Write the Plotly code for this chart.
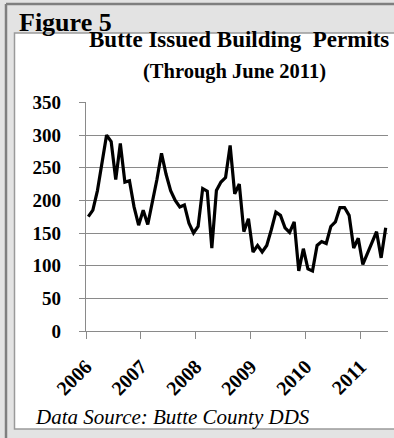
import numpy as np
import plotly.graph_objects as go

# Monthly building permits issued in Butte County, Jan 2006 - Jun 2011
permits_2006 = [175, 185, 215, 260, 300, 290, 232, 287, 228, 230, 190, 162]
permits_2007 = [185, 163, 195, 232, 272, 240, 215, 200, 190, 193, 165, 150]
permits_2008 = [160, 218, 214, 127, 215, 228, 235, 284, 210, 225, 152, 172]
permits_2009 = [121, 131, 121, 131, 155, 182, 177, 158, 151, 167, 92, 126]
permits_2010 = [95, 92, 131, 137, 134, 160, 167, 189, 189, 177, 127, 142]
permits_2011 = [102, 118, 135, 152, 112, 158]

year_labels = ["2006", "2007", "2008", "2009", "2010", "2011"]
y_ticks = [0, 50, 100, 150, 200, 250, 300, 350]

permits = (permits_2006 + permits_2007 + permits_2008 + permits_2009
           + permits_2010 + permits_2011)
n_months = len(permits)
# each month sits in the middle of its category slot; year ticks fall on slot boundaries
month_pos = np.arange(n_months) + 0.5
year_pos = [12 * k for k in range(len(year_labels))]

W, H = 394, 438
L, R, T, B = 86, 6, 102, 107
PW, PH = W - L - R, H - T - B


def px(x):
    return (x - L) / PW


def py(y):
    return (H - B - y) / PH


SERIF = "Liberation Serif"
GRID = "#8a8a8a"

fig = go.Figure()
fig.add_trace(go.Scatter(
    x=month_pos, y=permits, mode="lines",
    line=dict(color="#000000", width=3.2),
    hoverinfo="skip", showlegend=False,
))

shapes = [
    # outer frame
    dict(type="line", xref="paper", yref="paper", x0=px(6), x1=px(400), y0=py(4), y1=py(4),
         line=dict(color="#7f7f7f", width=2.5), layer="below"),
    dict(type="line", xref="paper", yref="paper", x0=px(6), x1=px(6), y0=py(4), y1=py(445),
         line=dict(color="#7f7f7f", width=2.5), layer="below"),
    # white chart panel
    dict(type="rect", xref="paper", yref="paper", x0=px(14.5), x1=px(410), y0=py(33), y1=py(429),
         fillcolor="#ffffff", line=dict(color="#9a9a9a", width=1.5), layer="below"),
]

annotations = [
    dict(text="<b>Figure 5</b>", xref="paper", yref="paper", x=px(17), y=py(22),
         xanchor="left", yanchor="middle", showarrow=False,
         font=dict(family=SERIF, size=26, color="#000000")),
    dict(text="<b>Butte Issued Building  Permits</b>", xref="paper", yref="paper",
         x=px(239), y=py(39.5), xanchor="center", yanchor="middle", showarrow=False,
         font=dict(family=SERIF, size=23, color="#000000")),
    dict(text="<b>(Through June 2011)</b>", xref="paper", yref="paper",
         x=px(234), y=py(72), xanchor="center", yanchor="middle", showarrow=False,
         font=dict(family=SERIF, size=20.5, color="#000000")),
    dict(text="<i>Data Source: Butte County DDS</i>", xref="paper", yref="paper",
         x=px(33), y=py(417), xanchor="left", yanchor="middle", showarrow=False,
         font=dict(family=SERIF, size=21, color="#000000")),
]

fig.update_layout(
    width=W, height=H,
    margin=dict(l=L, r=R, t=T, b=B, pad=0),
    paper_bgcolor="#e3e3e3",
    plot_bgcolor="#ffffff",
    shapes=shapes,
    annotations=annotations,
    showlegend=False,
    font=dict(family=SERIF, color="#000000"),
)

fig.update_yaxes(
    range=[0, 350.6], tickvals=y_ticks, ticktext=[f"<b>{v}</b>" for v in y_ticks],
    showgrid=True, gridcolor=GRID, gridwidth=1.2,
    showline=True, linecolor=GRID, linewidth=1.2,
    ticks="outside", ticklen=6, tickcolor=GRID, tickwidth=1.2,
    ticklabelstandoff=14, zeroline=False,
    tickfont=dict(family=SERIF, size=19, color="#000000"),
)
fig.update_xaxes(
    range=[0, n_months], tickvals=year_pos, ticktext=[f"<b>{y}</b>" for y in year_labels],
    tickangle=-45, showgrid=False,
    showline=True, linecolor=GRID, linewidth=1.2,
    ticks="outside", ticklen=7, tickcolor=GRID, tickwidth=1.2,
    ticklabelstandoff=8, zeroline=False,
    tickfont=dict(family=SERIF, size=20, color="#000000"),
)

fig.write_html("out.html")
